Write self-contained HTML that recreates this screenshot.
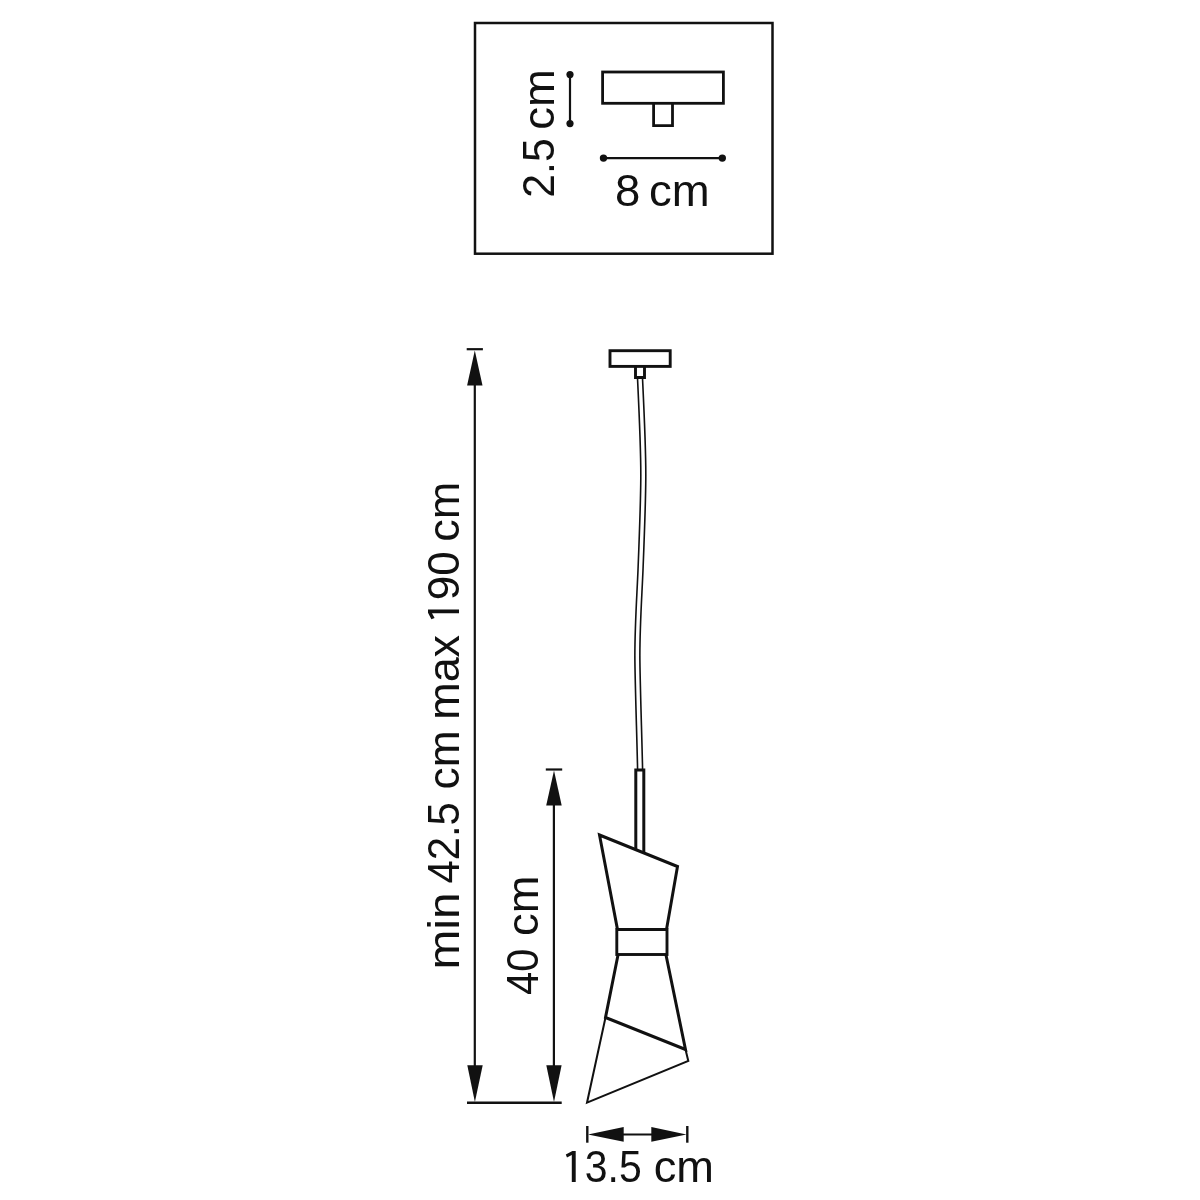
<!DOCTYPE html>
<html>
<head>
<meta charset="utf-8">
<style>
html,body{margin:0;padding:0;background:#fff;}
body{width:1200px;height:1200px;overflow:hidden;}
svg{display:block;will-change:transform;}
text{font-family:"Liberation Sans", sans-serif;font-size:41px;fill:#111;}
</style>
</head>
<body>
<svg width="1200" height="1200" viewBox="0 0 1200 1200">
<rect x="0" y="0" width="1200" height="1200" fill="#fff"/>
<g fill="none" stroke="#111" stroke-linecap="butt" stroke-linejoin="miter">
  <!-- top box -->
  <rect x="475" y="23" width="297.5" height="230.7" stroke-width="2.5"/>
  <rect x="602.6" y="72" width="120.8" height="31.3" stroke-width="2.8"/>
  <polyline points="653.6,103.3 653.6,125.7 672.5,125.7 672.5,103.3" stroke-width="2.8"/>
  <line x1="570" y1="74.6" x2="570" y2="123.6" stroke-width="2.2"/>
  <line x1="603.5" y1="158.1" x2="722.3" y2="158.1" stroke-width="2.2"/>

  <!-- long dimension -->
  <line x1="466.7" y1="349.2" x2="482.9" y2="349.2" stroke-width="2.2"/>
  <line x1="474.8" y1="380" x2="474.8" y2="1070" stroke-width="2.2"/>
  <line x1="467" y1="1102.7" x2="561.7" y2="1102.7" stroke-width="2.6"/>
  <!-- 40 dimension -->
  <line x1="545.8" y1="769.5" x2="562.2" y2="769.5" stroke-width="2.2"/>
  <line x1="553.9" y1="800" x2="553.9" y2="1070" stroke-width="2.2"/>

  <!-- canopy -->
  <rect x="610" y="350.7" width="60.2" height="15.7" stroke-width="2.9"/>
  <polyline points="635.5,366.4 635.5,377.5 644.5,377.5 644.5,366.4" stroke-width="2.9"/>
  <!-- cable -->
  <path d="M637.5,378 C639.5,420 641,450 640.8,478 S639,545 638,570 S634.5,630 634.9,661 S637,740 637.6,770" stroke-width="1.6"/>
  <path d="M642.5,378 C644.5,420 646,450 645.8,478 S644,545 643,570 S639.5,630 639.9,661 S642,740 642.6,770" stroke-width="1.6"/>
  <!-- rod -->
  <polyline points="635.8,849 635.8,770 643.8,770 643.8,852.3" stroke-width="3"/>
  <!-- upper cone -->
  <polygon points="599.5,835 677.5,866.5 666.5,929.5 617.5,929.5" stroke-width="3"/>
  <!-- ring -->
  <rect x="616.8" y="929.5" width="50.2" height="25" stroke-width="2.9"/>
  <!-- lower cone -->
  <polyline points="618,955 605.5,1017.5 685.5,1049.5 666,955" stroke-width="3"/>
  <polyline points="685.5,1049.5 688.3,1061 587,1102.7 605.5,1017.5" stroke-width="2"/>

  <!-- 13.5 dimension -->
  <line x1="587.3" y1="1126" x2="587.3" y2="1142.7" stroke-width="2.4"/>
  <line x1="687.3" y1="1126" x2="687.3" y2="1142.7" stroke-width="2.4"/>
  <line x1="620" y1="1134.4" x2="655" y2="1134.4" stroke-width="2"/>
</g>
<g fill="#111" stroke="none">
  <circle cx="570" cy="74.6" r="3.6"/>
  <circle cx="570" cy="123.6" r="3.6"/>
  <circle cx="603.5" cy="158.1" r="3.7"/>
  <circle cx="722.3" cy="158.1" r="3.7"/>
  <!-- arrows long -->
  <polygon points="474.8,350.5 467.1,385.4 482.5,385.4"/>
  <polygon points="474.9,1102 467.3,1065.3 482.7,1065.3"/>
  <!-- arrows 40 -->
  <polygon points="554,770.5 546.2,805.5 561.7,805.5"/>
  <polygon points="554,1102 546.3,1065.3 561.6,1065.3"/>
  <!-- arrows 13.5 -->
  <polygon points="588,1134.4 623.7,1127 623.7,1141.7"/>
  <polygon points="686.5,1134.4 651.3,1127 651.3,1141.7"/>
</g>
<g fill="#111" stroke="none">
  <path transform="translate(565.8,1182)" d="M6,0 L6,-27 L1.2,-24.4 L0,-27.6 L6.6,-31 L9.9,-31 L9.9,0 Z"/>
  <path transform="translate(459,619.3) rotate(-90)" d="M6,0 L6,-27 L1.2,-24.4 L0,-27.6 L6.6,-31 L9.9,-31 L9.9,0 Z"/>
</g>
<g>
  <text transform="translate(553.800,197.700) rotate(-90) scale(0.9596,1)" style="font-size:44.500px">2.5</text>
  <text transform="translate(553.800,129.700) rotate(-90) scale(1.0211,1)" style="font-size:44.500px">cm</text>
  <text transform="translate(615.000,206.300) scale(1.0229,1)" style="font-size:44.500px">8</text>
  <text transform="translate(648.950,206.300) scale(1.0224,1)" style="font-size:44.500px">cm</text>
  <text transform="translate(459.000,969.550) rotate(-90) scale(1.0746,1)" style="font-size:44.500px">min</text>
  <text transform="translate(459.000,883.500) rotate(-90) scale(0.9383,1)" style="font-size:44.500px">42.5</text>
  <text transform="translate(459.000,789.400) rotate(-90) scale(0.9951,1)" style="font-size:44.500px">cm</text>
  <text transform="translate(459.000,719.700) rotate(-90) scale(1.0079,1)" style="font-size:44.500px">max</text>
  <text transform="translate(459.000,600.200) rotate(-90) scale(0.9904,1)" style="font-size:44.500px">90</text>
  <text transform="translate(459.000,541.700) rotate(-90) scale(1.0127,1)" style="font-size:44.500px">cm</text>
  <text transform="translate(538.100,995.000) rotate(-90) scale(0.9351,1)" style="font-size:44.500px">40</text>
  <text transform="translate(538.100,935.900) rotate(-90) scale(1.0200,1)" style="font-size:44.500px">cm</text>
  <text transform="translate(584.800,1182.000) scale(0.9201,1)" style="font-size:44.500px">3.5</text>
  <text transform="translate(653.700,1182.000) scale(1.0164,1)" style="font-size:44.500px">cm</text>
</g>
</svg>
</body>
</html>
